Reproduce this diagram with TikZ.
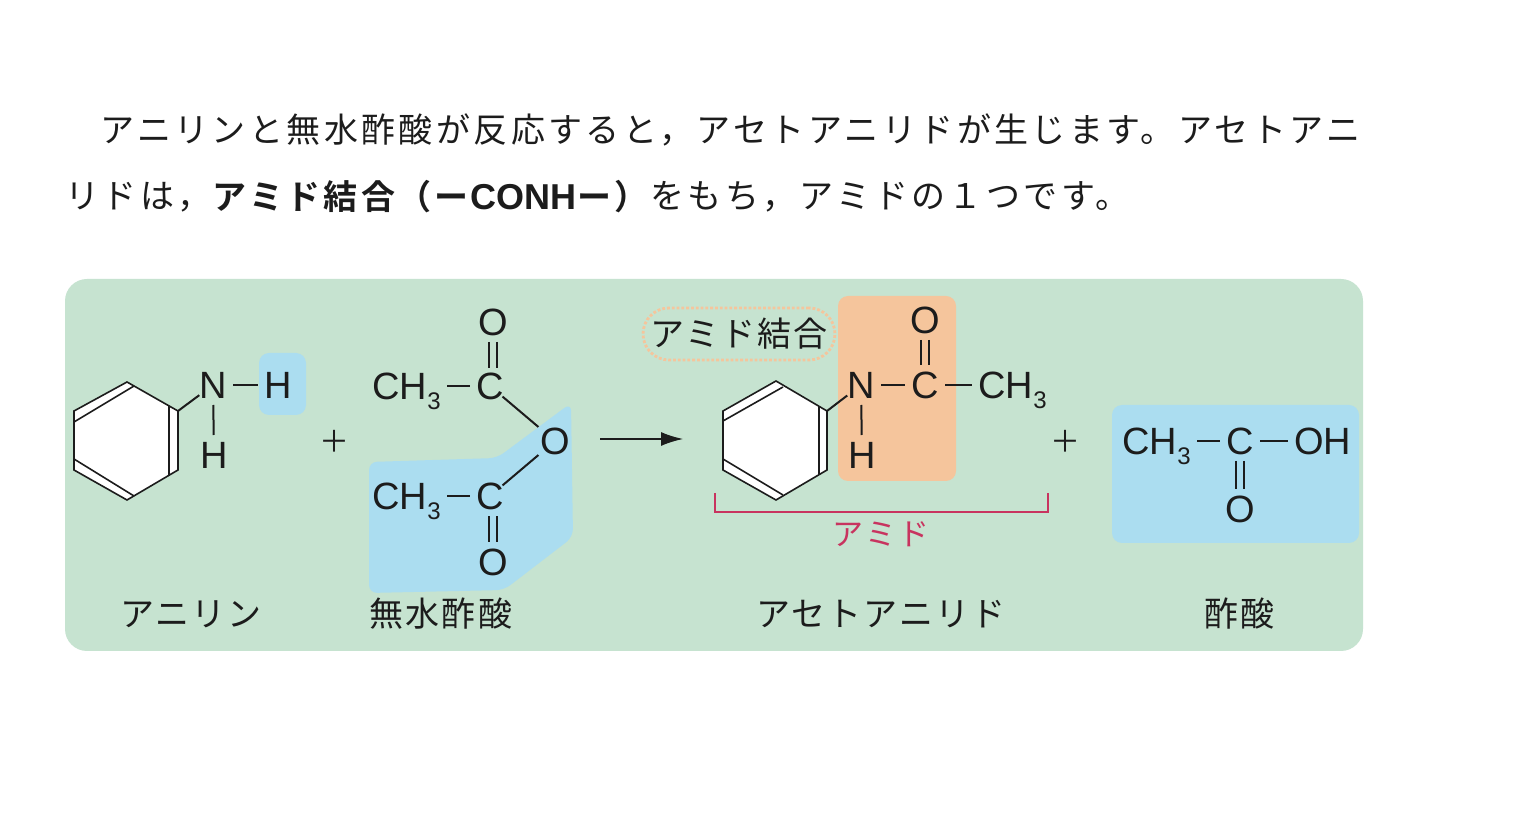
\documentclass[tikz,border=0pt]{standalone}
\usepackage{fontspec}
\setmainfont{Liberation Sans}
\newfontfamily\jp[LetterSpace=10]{Noto Sans CJK JP}
\newfontfamily\jpl[LetterSpace=6]{Noto Sans CJK JP}
\newfontfamily\jpb[LetterSpace=10]{Noto Sans CJK JP Bold}
\newfontfamily\latb{Liberation Sans Bold}
\usetikzlibrary{arrows.meta}
\definecolor{panel}{HTML}{C6E3D0}
\definecolor{bluebg}{HTML}{ABDDF0}
\definecolor{orangebg}{HTML}{F5C59C}
\definecolor{ink}{HTML}{1C1C1C}
\definecolor{crim}{HTML}{C8345F}
\tikzset{
  atom/.style={inner sep=3pt,text height=13.6pt,text depth=0pt,font=\fontsize{19}{19}\selectfont,text=ink},
  bond/.style={draw=ink,line width=1pt},
  ringline/.style={draw=ink,line width=0.8pt},
  jptext/.style={inner sep=0pt,text=ink,font=\fontsize{17}{20}\selectfont\jpl},
  para/.style={inner sep=0pt,text=ink,anchor=west,font=\fontsize{17}{20}\selectfont\jp},
  parab/.style={para,font=\fontsize{17}{20}\selectfont\jpb},
  plus/.style={inner sep=0pt,text=ink,font=\fontsize{15}{15}\selectfont\jpl},
  shade/.style={rounded corners=5pt}
}
\newcommand{\mesub}{\raisebox{-0.27em}{\fontsize{12}{12}\selectfont 3}}
\begin{document}
\begin{tikzpicture}[x=0.5pt,y=-0.5pt]
\useasboundingbox (0,0) rectangle (1528,828);
\fill[white] (0,0) rectangle (1528,828);

% paragraph
\node[para] (l1) at (100,130) {アニリンと無水酢酸が反応すると，アセトアニリドが生じます。アセトアニ};
\node[para] (l2a) at (65,197) {リドは，};
\node[parab] (l2b) at (212,197) {アミド結合};
\node[parab] (l2c) at (397,197) {（ー};
\node[para,font=\fontsize{18}{20}\selectfont\latb] (l2d) at (470,197) {CONH};
\node[parab] (l2e) at (577,197) {ー）};
\node[para] (l2f) at (650,197) {をもち，アミドの１つです。};

% panel
\fill[panel] (65,279) [rounded corners=11pt] rectangle (1363,651);

% shaded areas
\fill[bluebg,shade] (259,353) rectangle (306,415);
\fill[bluebg,rounded corners=4pt] (369,462) -- (497,458) -- (571,403) -- (573,537) -- (504,590) -- (369,593) -- cycle;
\fill[orangebg,shade] (838,296) rectangle (956,481);
\fill[bluebg,shade] (1112,405) rectangle (1359,543);

% aniline ring
\coordinate (a1) at (127,382); \coordinate (a2) at (178,411); \coordinate (a3) at (178,470);
\coordinate (a4) at (127,500); \coordinate (a5) at (74,470); \coordinate (a6) at (74,411);
\filldraw[fill=white,ringline] (a1) -- (a2) -- (a3) -- (a4) -- (a5) -- (a6) -- cycle;
\draw[ringline] (74,422) -- (134,386);
\draw[ringline] (169,406) -- (169,475);
\draw[ringline] (74,459) -- (134,496);
\node[atom] (aN) at (213,385) {N};
\node[atom] (aH1) at (278,385) {H};
\node[atom] (aH2) at (214,455) {H};
\draw[bond,shorten >=-4pt] (a2) -- (aN);
\draw[bond] (aN) -- (aH1);
\draw[bond] (aN) -- (aH2);

\node[plus] (p1) at (334,441) {＋};

% acetic anhydride
\node[atom] (bO1) at (493,322) {O};
\node[atom] (bC1) at (490,386) {C};
\node[atom,anchor=west] (bM1) at (366,386) {CH\mesub};
\node[atom] (bO) at (555,441) {O};
\node[atom] (bC2) at (490,496) {C};
\node[atom,anchor=west] (bM2) at (366,496) {CH\mesub};
\node[atom] (bO2) at (493,562) {O};
\draw[bond] ([xshift=-2pt]bO1.south) -- ([xshift=-2pt,yshift=-1pt]bO1.south |- bC1.north);
\draw[bond] ([xshift=2pt]bO1.south) -- ([xshift=2pt,yshift=-1pt]bO1.south |- bC1.north);
\draw[bond] (bM1) -- (bC1);
\draw[bond,shorten <=-5pt,shorten >=-3pt] (bC1) -- (bO);
\draw[bond,shorten <=-3pt,shorten >=-5pt] (bO) -- (bC2);
\draw[bond] (bM2) -- (bC2);
\draw[bond] ([xshift=-2pt]bO2.north) -- ([xshift=-2pt]bO2.north |- bC2.south);
\draw[bond] ([xshift=2pt]bO2.north) -- ([xshift=2pt]bO2.north |- bC2.south);

% arrow
\coordinate (arS) at (600,439); \coordinate (arE) at (683,439);
\draw[draw=ink,line width=0.7pt,-{Latex[length=11pt,width=7pt]}] (arS) -- (arE);

% acetanilide
\coordinate (c1) at (776,381); \coordinate (c2) at (827,411); \coordinate (c3) at (827,470);
\coordinate (c4) at (776,500); \coordinate (c5) at (723,470); \coordinate (c6) at (723,411);
\filldraw[fill=white,ringline] (c1) -- (c2) -- (c3) -- (c4) -- (c5) -- (c6) -- cycle;
\draw[ringline] (723,421) -- (783,387);
\draw[ringline] (819,406) -- (819,475);
\draw[ringline] (723,459) -- (783,495);
\node[atom] (dN) at (861,385) {N};
\node[atom] (dC) at (925,385) {C};
\node[atom,anchor=west] (dM) at (972,385) {CH\mesub};
\node[atom] (dO) at (925,320) {O};
\node[atom] (dH) at (862,455) {H};
\draw[bond,shorten >=-4pt] (c2) -- (dN);
\draw[bond] (dN) -- (dC);
\draw[bond] (dC) -- (dM.west);
\draw[bond] (dN) -- (dH);
\draw[bond] ([xshift=-2pt]dO.south) -- ([xshift=-2pt]dO.south |- dC.north);
\draw[bond] ([xshift=2pt]dO.south) -- ([xshift=2pt]dO.south |- dC.north);

\node[draw=orangebg,densely dotted,line width=1.4pt,rounded corners=13pt,minimum width=96pt,minimum height=26pt,inner sep=0pt,jptext] (bub) at (739,334) {アミド結合};

\coordinate (brA) at (715,493); \coordinate (brB) at (715,512); \coordinate (brC) at (1048,512); \coordinate (brD) at (1048,493);
\draw[crim,line width=0.7pt] (brA) -- (brB) -- (brC) -- (brD);
\node[jptext,text=crim,font=\fontsize{15.5}{18}\selectfont\jpl] (am) at (881,534) {アミド};

\node[plus] (p2) at (1065,441) {＋};

% acetic acid
\node[atom,anchor=west] (eM) at (1116,441) {CH\mesub};
\node[atom] (eC) at (1240,441) {C};
\node[atom,anchor=west] (eOH) at (1288,441) {OH};
\node[atom] (eO) at (1240,509) {O};
\draw[bond] (eM) -- (eC);
\draw[bond] (eC) -- (eOH);
\draw[bond] ([xshift=-2pt]eC.south) -- ([xshift=-2pt]eC.south |- eO.north);
\draw[bond] ([xshift=2pt]eC.south) -- ([xshift=2pt]eC.south |- eO.north);

% names
\node[jptext] (n1) at (191,614) {アニリン};
\node[jptext] (n2) at (441,614) {無水酢酸};
\node[jptext] (n3) at (881,614) {アセトアニリド};
\node[jptext] (n4) at (1240,614) {酢酸};
\end{tikzpicture}
\end{document}
